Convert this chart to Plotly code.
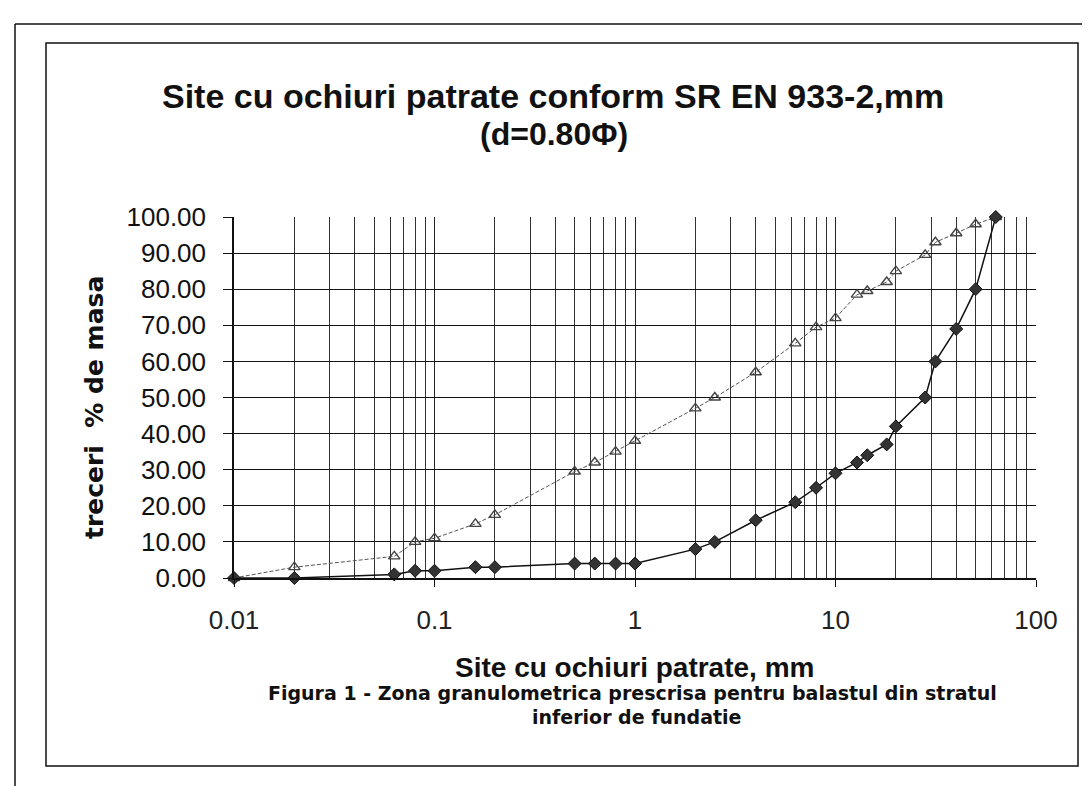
import plotly.graph_objects as go

# Sieve sizes (mm) and passing (%)
sieves = [0.01, 0.02, 0.063, 0.08, 0.1, 0.16, 0.2, 0.5, 0.63, 0.8, 1, 2, 2.5, 4,
          6.3, 8, 10, 12.8, 14.4, 18, 20, 28, 31.5, 40, 50, 63]
upper_limit = [0, 3, 6, 10, 11, 15, 17.5, 29.5, 32, 35, 38, 47, 50, 57,
               65, 69.5, 72, 78.5, 79.5, 82, 85, 89.5, 93, 95.5, 98, 100]
lower_limit = [0, 0, 1, 2, 2, 3, 3, 4, 4, 4, 4, 8, 10, 16,
               21, 25, 29, 32, 34, 37, 42, 50, 60, 69, 80, 100]

x_tick_vals = [0.01, 0.1, 1, 10, 100]
x_tick_text = ["0.01", "0.1", "1", "10", "100"]
x_minor_vals = [m * d for d in (0.01, 0.1, 1, 10) for m in range(2, 10)]

title_line1 = "Site cu ochiuri patrate conform SR EN 933-2,mm"
title_line2 = "(d=0.80Φ)"
x_title = "Site cu ochiuri patrate, mm"
y_title = "treceri  % de masa"
caption1 = "Figura 1 - Zona granulometrica prescrisa pentru balastul din stratul"
caption2 = "inferior de fundatie"

W, H = 1090, 786
L, R, T, B = 226, 1028, 209, 570


def px(x):
    return (x - L) / (R - L)


def py(y):
    return (B - y) / (B - T)


fig = go.Figure()
fig.add_trace(go.Scatter(
    x=sieves, y=upper_limit, mode="lines+markers",
    line=dict(color="#555555", width=1, dash="4px,2px"),
    marker=dict(symbol="triangle-up-open", size=10, color="#444444", line=dict(width=1.4)),
    showlegend=False, cliponaxis=False))
fig.add_trace(go.Scatter(
    x=sieves, y=lower_limit, mode="lines+markers",
    line=dict(color="#111111", width=1.5),
    marker=dict(symbol="diamond", size=10, color="#333333", line=dict(color="#111111", width=1)),
    showlegend=False, cliponaxis=False))

fig.update_layout(
    width=W, height=H,
    margin=dict(l=L, r=W - R, t=T, b=H - B),
    paper_bgcolor="white", plot_bgcolor="white",
    font=dict(family="Liberation Sans, Arial, sans-serif", color="#111111"),
)

fig.update_xaxes(
    type="log", range=[-2, 2],
    tickmode="array", tickvals=x_tick_vals, ticktext=x_tick_text,
    tickfont=dict(size=26, color="#222222"),
    ticks="outside", ticklen=7, tickcolor="#111111",
    showgrid=True, gridcolor="#222222", gridwidth=1,
    minor=dict(tickmode="array", tickvals=x_minor_vals, showgrid=True,
               gridcolor="#333333", gridwidth=1, ticks=""),
    showline=True, linecolor="#111111", linewidth=1.5,
    zeroline=False, ticklabelstandoff=11,
)
fig.update_yaxes(
    range=[0, 100], dtick=10, tick0=0, tickformat=".2f",
    tickfont=dict(size=26, color="#111111"),
    ticks="outside", ticklen=9, tickcolor="#111111",
    showgrid=True, gridcolor="#111111", gridwidth=1.2,
    showline=True, linecolor="#111111", linewidth=1.5,
    zeroline=False, ticklabelstandoff=12,
)

SANS = "Liberation Sans, Arial, sans-serif"
WIDE = "DejaVu Sans, sans-serif"
ann = [
    dict(text="<b>" + title_line1 + "</b>", x=px(545), y=py(88), size=34, fam=SANS),
    dict(text="<b>" + title_line2 + "</b>", x=px(546), y=py(126), size=32, fam=SANS),
    dict(text="<b>" + x_title + "</b>", x=px(626), y=py(659), size=28, fam=SANS),
    dict(text="<b>" + caption1 + "</b>", x=px(624), y=py(685), size=19, fam=WIDE),
    dict(text="<b>" + caption2 + "</b>", x=px(628), y=py(709), size=19, fam=WIDE),
]
for a in ann:
    fig.add_annotation(text=a["text"], x=a["x"], y=a["y"], xref="paper", yref="paper",
                       showarrow=False, xanchor="center", yanchor="middle",
                       font=dict(size=a["size"], color="#111111", family=a["fam"]))
fig.add_annotation(text="<b>" + y_title + "</b>", x=px(86), y=py(400), xref="paper", yref="paper",
                   showarrow=False, textangle=-90, xanchor="center", yanchor="middle",
                   font=dict(size=25, color="#111111", family=WIDE))

# frames
fig.add_shape(type="rect", xref="paper", yref="paper",
              x0=px(38), x1=px(1070), y0=py(35), y1=py(758),
              line=dict(color="#111111", width=1.5), layer="below")
for (x0, y0, x1, y1) in [(7, 16, 1090, 16), (7, 16, 7, 786), (1010, 784, 1090, 784)]:
    fig.add_shape(type="line", xref="paper", yref="paper",
                  x0=px(x0), x1=px(x1), y0=py(y0), y1=py(y1),
                  line=dict(color="#111111", width=1.5))

fig.write_html("out.html")
